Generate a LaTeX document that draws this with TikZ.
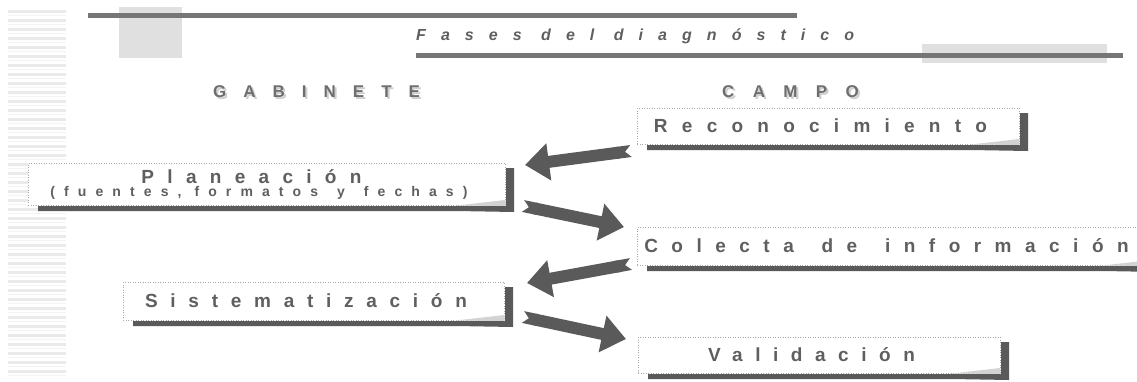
\documentclass[tikz,border=0pt]{standalone}
\usepackage{fontspec}
\setmainfont{Liberation Sans}
\newfontfamily\phasefont[LetterSpace=70]{Liberation Sans}
\newfontfamily\notefont[LetterSpace=65]{Liberation Sans}
\newfontfamily\headfont[LetterSpace=100]{Liberation Sans}
\newfontfamily\titlefont[LetterSpace=94]{Liberation Sans}
\usetikzlibrary{arrows.meta}

\definecolor{inkgray}{HTML}{5F5F5F}
\definecolor{headgray}{HTML}{6E6E6E}
\definecolor{headshade}{HTML}{CFCFCF}
\definecolor{rulegray}{HTML}{767676}
\definecolor{palegray}{HTML}{E0E0E0}
\definecolor{arrowgray}{HTML}{5A5A5A}
\definecolor{dotgray}{HTML}{A8A8A8}
\definecolor{curlgray}{HTML}{D2D2D2}
\definecolor{stripeA}{HTML}{EAEAEA}
\definecolor{stripeB}{HTML}{F3F3F3}

\tikzset{
  phase/.style={draw=dotgray, dotted, line width=0.5pt, fill=white,
    inner sep=0pt, outer sep=0pt, text=inkgray,
    font=\phasefont\bfseries\fontsize{19}{13}\selectfont,
    execute at end node={\hspace*{15pt}}},
  heading/.style={anchor=west, inner sep=0pt, text=headgray,
    font=\headfont\bfseries\fontsize{17}{18}\selectfont},
  headingshade/.style={heading, text=headshade},
  fatarrow/.style={draw=arrowgray, line width=12pt,
    {Triangle Cap[reversed]}-{Triangle[length=24pt,width=36pt]}}
}

\begin{document}
\begin{tikzpicture}[x=1pt,y=-1pt]
  \useasboundingbox (0,0) rectangle (1137,381);
  \clip (0,0) rectangle (1137,381);
  % stripes on the left
  \foreach \y in {10,19,...,370} {
    \fill[stripeA] (8,\y) rectangle (66,\y+2.5);
    \fill[stripeB] (8,\y+4.5) rectangle (66,\y+6);
  }
  % title bars
  \fill[palegray] (119,7) rectangle (182,58);
  \fill[palegray] (922,44) rectangle (1107,63);
  \fill[rulegray] (88,13) rectangle (797,17.5);
  \fill[rulegray] (416,53) rectangle (1123,57.5);
  \node[anchor=west, inner sep=0pt, text=inkgray,
    font=\titlefont\bfseries\itshape\fontsize{16}{18}\selectfont]
    (title) at (416,36) {Fases del diagnóstico};
  \node[headingshade] (gabshade) at (215,94) {GABINETE};
  \node[heading] (gab) at (213,92) {GABINETE};
  \node[headingshade] (camposhade) at (724,94) {\addfontfeature{LetterSpace=108}CAMPO};
  \node[heading] (campo) at (722,92) {\addfontfeature{LetterSpace=108}CAMPO};

  % phases
  \node[phase, minimum width=382pt, minimum height=36pt] (recon) at (828,126)
    {\addfontfeature{LetterSpace=75}Reconocimiento};
  \node[phase, minimum width=477pt, minimum height=42pt, align=center] (plan) at (266.5,184)
    {Planeación\hspace*{15pt}\\{\notefont\bfseries\fontsize{14}{13}\selectfont
      (fuentes, formatos\kern6pt{} y\kern6pt{} fechas)}};
  \node[phase, minimum width=514pt, minimum height=38pt] (colecta) at (894,246)
    {\addfontfeature{LetterSpace=71}Colecta\kern9pt{} de\kern9pt{} información};
  \node[phase, minimum width=381pt, minimum height=38pt] (sist) at (313.5,301)
    {\addfontfeature{LetterSpace=67}Sistematización};
  \node[phase, minimum width=362pt, minimum height=36pt] (valid) at (819,355)
    {\addfontfeature{LetterSpace=66}Validación};

  % shadows and curled corners
  \foreach \n in {recon,plan,colecta,sist,valid} {
    \fill[arrowgray] ([shift={(10,1)}]\n.south west) -- ([shift={(1,1)}]\n.south east)
      -- ([shift={(1,5)}]\n.north east) -- ([shift={(9,5)}]\n.north east)
      -- ([shift={(9,7)}]\n.south east) -- ([shift={(-48,6)}]\n.south east)
      -- ([shift={(10,6)}]\n.south west) -- cycle;
    \fill[curlgray] ([shift={(-48,0.5)}]\n.south east) -- ([shift={(0.5,-5)}]\n.south east)
      -- ([shift={(0.5,1)}]\n.south east) -- cycle;
  }

  % arrows
  \draw[fatarrow] ([shift={(-6,7)}]recon.south west) -- ([shift={(20,2)}]plan.north east);
  \draw[fatarrow] ([shift={(18,1)}]plan.south east) -- ([shift={(-13,0)}]colecta.north west);
  \draw[fatarrow] ([shift={(-6,-1)}]colecta.south west) -- ([shift={(23,1)}]sist.north east);
  \draw[fatarrow] ([shift={(19,-3)}]sist.south east) -- ([shift={(-12,2)}]valid.north west);
\end{tikzpicture}
\end{document}
